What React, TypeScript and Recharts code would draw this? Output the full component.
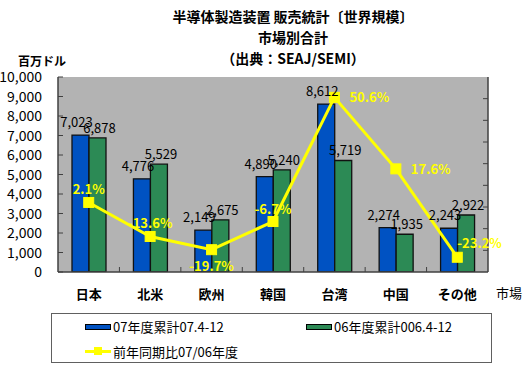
import React from 'react';
import {
  ComposedChart, Bar, Line, XAxis, YAxis, CartesianGrid, LabelList, Legend,
} from 'recharts';

const categories = ['日本', '北米', '欧州', '韓国', '台湾', '中国', 'その他'];
const fy07 = [7023, 4776, 2149, 4890, 8612, 2274, 2243];
const fy06 = [6878, 5529, 2675, 5240, 5719, 1935, 2922];
const yoy = [2.1, -13.6, -19.7, -6.7, 50.6, 17.6, -23.2];
const leftTicks = [0, 1000, 2000, 3000, 4000, 5000, 6000, 7000, 8000, 9000, 10000];
const rightTicks = [-30, -20, -10, 0, 10, 20, 30, 40, 50, 60];
const seriesNames = ['07年度累計07.4-12', '06年度累計006.4-12', '前年同期比07/06年度'];
const titleLines = ['半導体製造装置 販売統計〔世界規模〕', '市場別合計', '（出典：SEAJ/SEMI）'];
const yoyLabelPlacement = ['top', 'top', 'bottom', 'top', 'right', 'right', 'upright'];

const data = categories.map((c, i) => ({ name: c, fy07: fy07[i], fy06: fy06[i], yoy: yoy[i] }));

const FONT = '"Noto Sans CJK JP", "Noto Sans", sans-serif';
const BLUE = '#0052C2';
const GREEN = '#2C8A55';
const YELLOW = '#FFFF00';
const BG = '#B3B3B3';
const AXIS = '#404040';

const fmt = (v: number) => v.toLocaleString('en-US');

const LeftTick = (props: any) => {
  const { x, y, payload } = props;
  return (
    <g>
      <text x={x} y={y} dy={5} textAnchor="end" fontSize={14} fill="#000" fontFamily={FONT}>
        {fmt(payload.value)}
      </text>
      <line x1={x + 16} x2={x + 21} y1={y} y2={y} stroke={AXIS} strokeWidth={1} />
    </g>
  );
};

const RightTick = (props: any) => {
  const { x, y, index } = props;
  if (index === 0 || index === rightTicks.length - 1) return <g />;
  return <line x1={x - 5} x2={x} y1={y} y2={y} stroke={AXIS} strokeWidth={1} />;
};

const BottomTick = (props: any) => {
  const { x, y, payload, index } = props;
  const half = payload && payload.offset ? payload.offset : 30.7;
  return (
    <g>
      <text x={x} y={y + 27} textAnchor="middle" fontSize={13} fontWeight="bold" fill="#000" fontFamily={FONT}>
        {payload.value}
      </text>
      {index < categories.length - 1 ? (
        <line x1={x + half} x2={x + half} y1={y} y2={y - 5} stroke={AXIS} strokeWidth={1} />
      ) : null}
    </g>
  );
};

const YoyLabel = (props: any) => {
  const { x, y, value, index } = props;
  const place = yoyLabelPlacement[index] || 'top';
  let tx = x;
  let ty = y;
  let anchor: 'start' | 'middle' | 'end' = 'middle';
  if (place === 'top') { ty = y - 8; }
  else if (place === 'bottom') { ty = y + 21; }
  else if (place === 'right') { tx = x + 15; ty = y + 5; anchor = 'start'; }
  else if (place === 'upright') { tx = x; ty = y - 9; anchor = 'start'; }
  return (
    <text x={tx} y={ty} textAnchor={anchor} fontSize={13} fontWeight="bold" fill={YELLOW} fontFamily={FONT}>
      {`${value}%`}
    </text>
  );
};

const makeBarLabel = (dx: number, lift: number) => (props: any) => {
  const { x, y, width, value } = props;
  return (
    <text x={x + width / 2 + dx} y={y - lift} textAnchor="middle" fontSize={13} fill="#000" fontFamily={FONT}>
      {fmt(value)}
    </text>
  );
};
const BlueLabel = makeBarLabel(-4, 8);
const GreenLabel = makeBarLabel(2, 5);

const LegendBox = () => (
  <div
    style={{
      position: 'relative', width: 441, height: 50, boxSizing: 'border-box',
      border: '1px solid #606060', background: '#fff', fontFamily: FONT, fontSize: 13, color: '#000',
    }}
  >
    <div style={{ position: 'absolute', left: 33, top: 10, width: 26, height: 6, background: BLUE, border: '1px solid #000', boxSizing: 'border-box' }} />
    <div style={{ position: 'absolute', left: 61, top: 4, lineHeight: '17px', whiteSpace: 'nowrap' }}>{seriesNames[0]}</div>
    <div style={{ position: 'absolute', left: 254, top: 10, width: 26, height: 6, background: GREEN, border: '1px solid #000', boxSizing: 'border-box' }} />
    <div style={{ position: 'absolute', left: 282, top: 4, lineHeight: '17px', whiteSpace: 'nowrap' }}>{seriesNames[1]}</div>
    <div style={{ position: 'absolute', left: 33, top: 36, width: 26, height: 3, background: YELLOW }} />
    <div style={{ position: 'absolute', left: 42, top: 33, width: 8, height: 8, background: YELLOW }} />
    <div style={{ position: 'absolute', left: 61, top: 29, lineHeight: '17px', whiteSpace: 'nowrap' }}>{seriesNames[2]}</div>
  </div>
);

export default function App() {
  return (
    <div style={{ position: 'absolute', left: 0, top: 0, width: 530, height: 369, background: '#fff', fontFamily: FONT }}>
      <div
        style={{
          position: 'absolute', left: 143, top: 6, width: 300, textAlign: 'center',
          fontSize: 14, fontWeight: 'bold', lineHeight: '21px', color: '#000', fontFamily: FONT,
        }}
      >
        {titleLines.map((t) => (
          <div key={t}>{t}</div>
        ))}
      </div>
      <div style={{ position: 'absolute', left: 18, top: 52, fontSize: 12, fontWeight: 'bold', fontFamily: FONT, color: '#000' }}>
        百万ドル
      </div>
      <div style={{ position: 'absolute', left: 496, top: 283, fontSize: 13, fontFamily: FONT, color: '#000' }}>
        市場
      </div>
      <ComposedChart
        width={530}
        height={369}
        data={data}
        margin={{ top: 77, right: 0, bottom: 67, left: 0 }}
        barGap={0}
        barCategoryGap="21%"
      >
        <CartesianGrid fill={BG} horizontal={false} vertical={false} stroke="none" />
        <XAxis
          dataKey="name"
          xAxisId="bottom"
          height={30}
          axisLine={{ stroke: AXIS, strokeWidth: 1.5 }}
          tickLine={false}
          tickSize={0}
          tickMargin={0}
          tick={<BottomTick />}
          interval={0}
        />
        <XAxis dataKey="name" xAxisId="top" orientation="top" height={0} axisLine={{ stroke: AXIS, strokeWidth: 1.5 }} tick={false} tickLine={false} />
        <YAxis
          yAxisId="left"
          width={58}
          domain={[0, 10000]}
          ticks={leftTicks}
          interval={0}
          axisLine={{ stroke: AXIS, strokeWidth: 1.5 }}
          tickLine={false}
          tickSize={0}
          tickMargin={16}
          tick={<LeftTick />}
          allowDataOverflow
        />
        <YAxis
          yAxisId="right"
          orientation="right"
          width={42}
          domain={[-30, 60]}
          ticks={rightTicks}
          interval={0}
          axisLine={{ stroke: AXIS, strokeWidth: 1.5 }}
          tickLine={false}
          tickSize={0}
          tickMargin={0}
          tick={<RightTick />}
          allowDataOverflow
        />
        <Bar dataKey="fy07" name={seriesNames[0]} xAxisId="bottom" yAxisId="left" fill={BLUE} stroke="#111" strokeWidth={1.3} barSize={17} isAnimationActive={false}>
          <LabelList dataKey="fy07" content={<BlueLabel />} />
        </Bar>
        <Bar dataKey="fy06" name={seriesNames[1]} xAxisId="bottom" yAxisId="left" fill={GREEN} stroke="#111" strokeWidth={1.3} barSize={17} isAnimationActive={false}>
          <LabelList dataKey="fy06" content={<GreenLabel />} />
        </Bar>
        <Line
          dataKey="yoy"
          name={seriesNames[2]}
          xAxisId="bottom"
          yAxisId="right"
          stroke={YELLOW}
          strokeWidth={3}
          isAnimationActive={false}
          dot={(p: any) => (
            <rect key={`d${p.index}`} x={p.cx - 5} y={p.cy - 5} width={10} height={10} fill={YELLOW} stroke={YELLOW} />
          )}
          activeDot={false}
        >
          <LabelList dataKey="yoy" content={<YoyLabel />} />
        </Line>
        <Legend
          layout="horizontal"
          verticalAlign="middle"
          align="center"
          content={<LegendBox />}
          wrapperStyle={{ position: 'absolute', left: 51, top: 313, width: 441, height: 50 }}
        />
      </ComposedChart>
    </div>
  );
}
